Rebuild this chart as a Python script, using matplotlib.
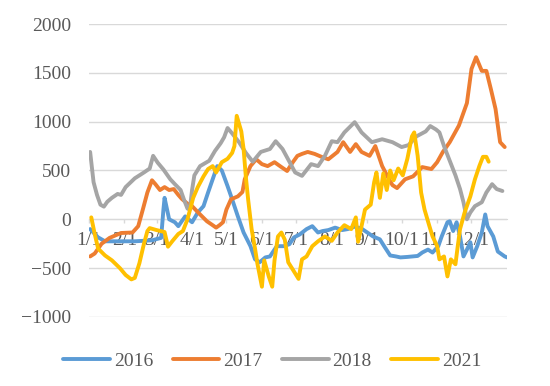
import matplotlib
matplotlib.use('Agg')
import matplotlib.pyplot as plt

plt.rcParams['font.family'] = ['Liberation Serif', 'DejaVu Serif']

# day of year (0 = 1/1) and value for each series
d2016 = [1, 5, 8, 14, 25, 40, 55, 63, 65, 66, 70, 75, 78, 84, 90, 95, 100, 104, 108, 112, 116, 121, 125, 130,
         135, 141, 145, 149, 154, 158, 164, 170, 175, 179, 184, 190, 195, 200, 204, 209, 215, 221, 226, 232,
         238, 243, 248, 254, 258, 263, 268, 272, 278, 287, 291, 296, 300, 305, 308, 313, 315, 318, 321, 324,
         327, 330, 333, 335, 339, 343, 346, 348, 353, 357, 363, 365]
v2016 = [-100, -150, -185, -225, -225, -225, -215, -190, 100, 220, 0, -30, -70, 30, -30, 70, 135, 275, 410, 545,
         500, 340, 205, 30, -135, -275, -410, -440, -390, -380, -275, -275, -255, -185, -155, -100, -70, -135,
         -120, -110, -85, -110, -100, -75, -95, -135, -175, -205, -280, -370, -380, -390, -385, -375, -340, -310,
         -340, -275, -175, -30, -20, -120, -30, -175, -380, -310, -235, -390, -275, -135, 50, -70, -175, -330,
         -380, -390]

d2017 = [1, 5, 11, 18, 28, 38, 43, 47, 51, 55, 58, 62, 66, 70, 74, 78, 81, 86, 90, 97, 103, 108, 111, 114, 117,
         120, 124, 130, 134, 136, 141, 146, 151, 156, 162, 168, 173, 178, 182, 186, 191, 197, 204, 209, 217, 222,
         228, 233, 238, 245, 250, 256, 262, 265, 269, 276, 283, 291, 299, 304, 309, 315, 323, 330, 334, 338, 343,
         347, 351, 355, 359, 363]
v2017 = [-380, -350, -250, -190, -140, -135, -70, 100, 275, 400, 360, 300, 330, 300, 310, 250, 210, 160, 135, 50,
         -20, -60, -85, -60, -30, 100, 205, 235, 280, 410, 545, 615, 565, 545, 585, 535, 495, 585, 650, 670, 690,
         670, 635, 615, 690, 790, 690, 770, 690, 650, 750, 545, 410, 350, 320, 410, 440, 535, 515, 585, 690, 790,
         960, 1190, 1540, 1660, 1520, 1520, 1330, 1130, 790, 740]

d2018 = [1, 4, 7, 10, 13, 16, 20, 25, 28, 32, 40, 48, 53, 56, 60, 65, 71, 75, 80, 83, 86, 88, 90, 92, 97, 105,
         110, 115, 118, 121, 125, 131, 137, 143, 150, 158, 163, 169, 175, 180, 186, 194, 200, 206, 212, 217, 223,
         232, 238, 247, 256, 265, 273, 279, 286, 294, 298, 303, 306, 310, 315, 320, 324, 327, 330, 333, 337, 343,
         347, 352, 356, 361]
v2018 = [690, 380, 250, 150, 130, 180, 220, 260, 250, 330, 420, 480, 520, 650, 580, 510, 410, 360, 300, 200, 110,
         100, 300, 450, 545, 600, 700, 780, 840, 935, 880, 790, 680, 590, 690, 720, 800, 720, 590, 480, 445, 565,
         545, 650, 800, 790, 890, 995, 890, 790, 820, 790, 740, 760, 850, 900, 955, 920, 890, 750, 600, 450, 310,
         175, 0, 70, 135, 175, 275, 360, 310, 290]

d2021 = [2, 5, 8, 14, 20, 27, 32, 37, 40, 44, 48, 51, 53, 59, 66, 69, 73, 78, 82, 86, 91, 95, 100, 104, 108, 111,
         116, 121, 125, 127, 129, 133, 135, 137, 139, 142, 145, 147, 151, 153, 157, 160, 162, 165, 168, 171, 174,
         178, 183, 186, 190, 195, 200, 206, 212, 217, 223, 229, 233, 235, 238, 241, 246, 249, 251, 254, 257, 260,
         263, 266, 270, 274, 278, 282, 284, 287, 290, 293, 297, 300, 304, 306, 310, 313, 316, 320, 322, 324, 328,
         333, 337, 341, 344, 347, 349]
v2021 = [20, -150, -300, -370, -420, -500, -570, -615, -600, -450, -250, -120, -90, -110, -130, -280, -220, -150,
         -120, 0, 220, 330, 440, 515, 545, 480, 585, 620, 680, 750, 1060, 900, 720, 430, 200, -100, -300, -450,
         -690, -420, -585, -690, -420, -175, -135, -210, -440, -515, -610, -410, -380, -275, -225, -175, -220,
         -135, -60, -100, 20, -230, -70, 100, 150, 380, 480, 220, 470, 300, 500, 400, 520, 450, 620, 850, 890,
         650, 275, 100, -60, -175, -275, -410, -380, -585, -410, -460, -275, -100, 70, 235, 410, 550, 640, 640,
         590]

month_days = [0, 31, 59, 90, 120, 151, 181, 212, 243, 273, 304, 334]
month_labels = ['1/1', '2/1', '3/1', '4/1', '5/1', '6/1', '7/1', '8/1', '9/1', '10/1', '11/1', '12/1']
yticks = [-1000, -500, 0, 500, 1000, 1500, 2000]

series = [('2016', d2016, v2016, '#5B9BD5'),
          ('2017', d2017, v2017, '#ED7D31'),
          ('2018', d2018, v2018, '#A5A5A5'),
          ('2021', d2021, v2021, '#FFC000')]

fig = plt.figure(figsize=(5.5, 3.86), dpi=100)
ax = fig.add_axes([0.1618, 0.1788, 0.76, 0.759])

for name, d, v, c in series:
    ax.plot(d, v, color=c, lw=2.8, label=name, solid_capstyle='round', solid_joinstyle='round')

ax.set_xlim(0, 365)
ax.set_ylim(-1000, 2000)
ax.set_yticks(yticks)
ax.yaxis.grid(True, color='#D9D9D9', lw=1)
ax.set_axisbelow(True)
ax.set_xticks(month_days)
ax.set_xticklabels(month_labels)

for s in ['left', 'right', 'top']:
    ax.spines[s].set_visible(False)
ax.spines['bottom'].set_position(('data', 0))
ax.spines['bottom'].set_color('#D9D9D9')
ax.spines['bottom'].set_zorder(0.5)

ax.tick_params(axis='y', length=0, pad=13, labelsize=14, labelcolor='#595959')
ax.tick_params(axis='x', length=3, width=1, color='#D9D9D9', pad=6, labelsize=14, labelcolor='#595959')

ax.legend(loc='center', bbox_to_anchor=(0.495, 0.065), bbox_transform=fig.transFigure, ncol=4,
          frameon=False, fontsize=14, handlelength=2.4, handletextpad=0.2, columnspacing=1.0,
          labelcolor='#595959')

fig.savefig('out.png', dpi=100)
